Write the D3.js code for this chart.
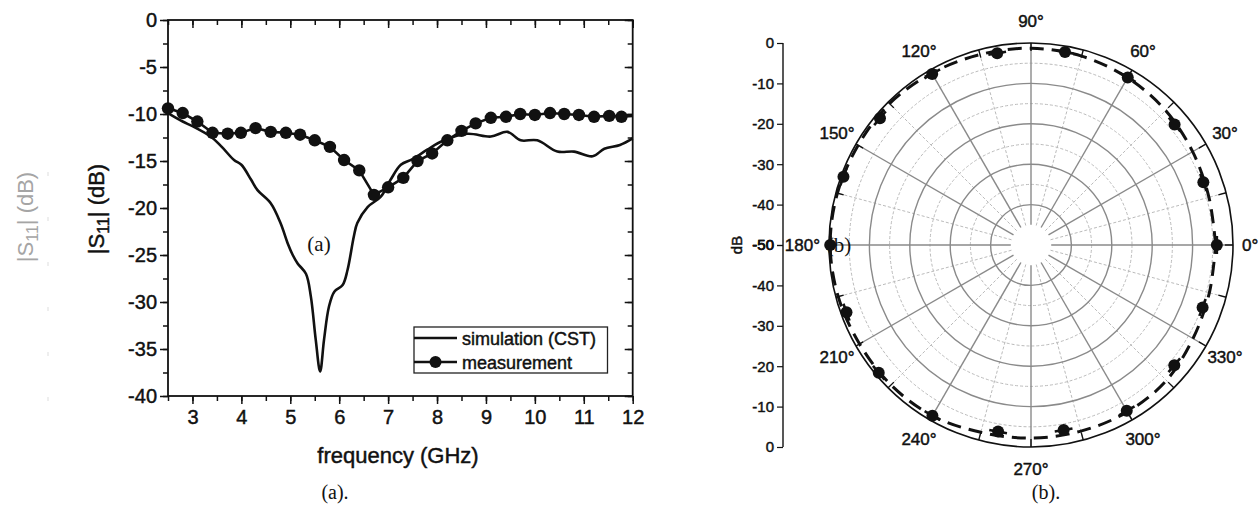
<!DOCTYPE html>
<html>
<head>
<meta charset="utf-8">
<script src="https://cdn.jsdelivr.net/npm/d3@7"></script>
<style>
  body { margin: 0; background: #fff; }
  svg { display: block; }
  text { font-family: "Liberation Sans", Arial, sans-serif; fill: #111; }
  .bold { stroke: #111; stroke-width: 0.45px; }
  .serif { font-family: "Liberation Serif", "Times New Roman", serif; }
</style>
</head>
<body>
<svg width="1259" height="514"></svg>
<script>
// ---- panel (a): |S11| vs frequency ----
var simFreq = [2.5, 2.8, 3.0, 3.37, 3.6, 3.85, 4.0, 4.2, 4.33, 4.6, 4.8, 4.95, 5.05, 5.15, 5.32, 5.42, 5.52, 5.61,
               5.69, 5.79, 5.9, 6.07, 6.17, 6.3, 6.37, 6.58, 6.85, 7.05, 7.26, 7.5, 7.8, 8.14, 8.62, 9.1, 9.44,
               9.71, 10.05, 10.46, 10.8, 11.18, 11.42, 11.74, 12.0];
var simDb   = [-9.9, -10.8, -11.3, -12.4, -13.5, -14.9, -15.4, -17.0, -18.1, -19.5, -21.6, -23.8, -25.0, -25.9, -27.0, -29.4, -34.0, -37.4,
               -34.0, -30.5, -28.9, -28.2, -26.6, -23.0, -21.6, -19.9, -18.8, -17.0, -15.4, -14.8, -13.8, -12.8, -12.1, -12.4, -11.9,
               -12.8, -12.8, -14.0, -14.0, -14.5, -13.7, -13.3, -12.6];

var measFreq = [2.5, 2.8, 3.1, 3.41, 3.72, 3.99, 4.29, 4.6, 4.91, 5.2, 5.5, 5.81, 6.1, 6.41, 6.71, 7.0,
                7.31, 7.6, 7.9, 8.21, 8.5, 8.79, 9.1, 9.41, 9.7, 10.0, 10.31, 10.6, 10.9, 11.21, 11.52, 11.77];
var measDb   = [-9.4, -9.9, -10.8, -12.0, -12.1, -12.0, -11.5, -11.9, -12.0, -12.2, -12.8, -13.5, -14.9, -16.0, -18.6, -17.8,
                -16.8, -15.0, -14.2, -12.8, -11.8, -11.0, -10.4, -10.3, -10.0, -10.1, -9.9, -10.0, -10.1, -10.3, -10.2, -10.3];

var xTicks = [3, 4, 5, 6, 7, 8, 9, 10, 11, 12];
var yTicks = [0, -5, -10, -15, -20, -25, -30, -35, -40];
var legendLabels = ["simulation (CST)", "measurement"];

// ---- panel (b): polar pattern ----
var simAngle = [0, 15, 30, 45, 60, 75, 90, 105, 120, 135, 150, 165, 180, 195, 210, 225, 240, 255, 270, 285, 300, 315, 330, 345, 360];
var simPolarDb = [-4.3, -4.4, -3.8, -2.9, -2.2, -1.6, -1.3, -1.2, -0.9, -0.5, -0.6, -0.4, -0.3, -0.6, -1.0, -1.0, -1.2, -2.0, -2.2, -2.3, -2.3, -2.6, -3.7, -4.3, -4.3];
var measAngle = [0, 20, 40, 60, 80, 100, 120, 140, 160, 180, 200, 220, 240, 260, 280, 300, 320, 340];
var measPolarDb = [-4.0, -4.6, -3.6, -2.1, -1.5, -1.8, -1.1, -1.2, -0.6, -0.3, -1.4, -0.8, -1.2, -3.1, -3.5, -2.6, -3.7, -4.8];
var angleLabels = [0, 30, 60, 90, 120, 150, 180, 210, 240, 270, 300, 330];
var radialTicks = [0, -10, -20, -30, -40, -50];

var svg = d3.select("svg");
var fmt = d => String(d);   // plain hyphen minus, as in the figure

// ================= panel (a) =================
var x = d3.scaleLinear().domain([2.5, 12]).range([168, 632.7]);
var y = d3.scaleLinear().domain([-40, 0]).range([396, 20]);

var gA = svg.append("g");

var xMinor = d3.range(2.5, 12.01, 0.5);
var yMinor = d3.range(-40, 0.01, 2.5);

// bottom (outward) & top (inward)
gA.append("g").attr("transform", "translate(0,396)")
  .call(d3.axisBottom(x).tickValues(xMinor).tickSize(5).tickFormat(""))
  .call(g => g.select(".domain").remove());
gA.append("g").attr("transform", "translate(0,396)")
  .call(d3.axisBottom(x).tickValues(xTicks).tickSize(8).tickPadding(6).tickFormat(fmt))
  .call(g => g.select(".domain").remove())
  .call(g => g.selectAll("text").attr("class", "bold").attr("font-size", 20).attr("font-family", null).attr("fill", "#111"));
gA.append("g").attr("transform", "translate(0,20)")
  .call(d3.axisTop(x).tickValues(xMinor).tickSize(-5).tickFormat(""))
  .call(g => g.select(".domain").remove());
gA.append("g").attr("transform", "translate(0,20)")
  .call(d3.axisTop(x).tickValues(xTicks).tickSize(-8).tickFormat(""))
  .call(g => g.select(".domain").remove());

// left (outward) & right (inward)
gA.append("g").attr("transform", "translate(168,0)")
  .call(d3.axisLeft(y).tickValues(yMinor).tickSize(5).tickFormat(""))
  .call(g => g.select(".domain").remove());
gA.append("g").attr("transform", "translate(168,0)")
  .call(d3.axisLeft(y).tickValues(yTicks).tickSize(8).tickPadding(3).tickFormat(fmt))
  .call(g => g.select(".domain").remove())
  .call(g => g.selectAll("text").attr("class", "bold").attr("font-size", 20).attr("font-family", null).attr("fill", "#111"));
gA.append("g").attr("transform", "translate(632.7,0)")
  .call(d3.axisRight(y).tickValues(yMinor).tickSize(-5).tickFormat(""))
  .call(g => g.select(".domain").remove());
gA.append("g").attr("transform", "translate(632.7,0)")
  .call(d3.axisRight(y).tickValues(yTicks).tickSize(-8).tickFormat(""))
  .call(g => g.select(".domain").remove());

gA.selectAll(".tick line").attr("stroke", "#111").attr("stroke-width", 1.5);

// frame
gA.append("rect").attr("x", 168).attr("y", 20).attr("width", 632.7 - 168).attr("height", 376)
  .attr("fill", "none").attr("stroke", "#111").attr("stroke-width", 1.8);

// curves
var simPts = simFreq.map((f, i) => [x(f), y(simDb[i])]);
var measPts = measFreq.map((f, i) => [x(f), y(measDb[i])]);
measPts.push([x(12), y(-10.2)]);

gA.append("path").attr("d", d3.line().curve(d3.curveCatmullRom)(simPts))
  .attr("fill", "none").attr("stroke", "#111").attr("stroke-width", 2.6);
gA.append("path").attr("d", d3.line()(measPts))
  .attr("fill", "none").attr("stroke", "#111").attr("stroke-width", 2.6);
gA.selectAll("circle.m").data(measFreq).enter().append("circle")
  .attr("cx", d => x(d)).attr("cy", (d, i) => y(measDb[i])).attr("r", 6.2).attr("fill", "#111");

// legend
var lg = gA.append("g");
lg.append("rect").attr("x", 414).attr("y", 327).attr("width", 193.5).attr("height", 46)
  .attr("fill", "#fff").attr("stroke", "#222").attr("stroke-width", 1.3);
legendLabels.forEach(function (t, i) {
  var ly = 338 + i * 24;
  lg.append("line").attr("x1", 414).attr("x2", 457).attr("y1", ly).attr("y2", ly)
    .attr("stroke", "#111").attr("stroke-width", 2.6);
  if (i === 1) lg.append("circle").attr("cx", 435.5).attr("cy", ly).attr("r", 6).attr("fill", "#111");
  lg.append("text").attr("class", "bold").attr("x", 462).attr("y", ly + 6.5).attr("font-size", 18).text(t);
});

// axis titles
gA.append("text").attr("class", "bold").attr("x", 398).attr("y", 463).attr("text-anchor", "middle").attr("font-size", 22)
  .text("frequency (GHz)");
var yl = gA.append("text").attr("class", "bold").attr("transform", "translate(104,209) rotate(-90)")
  .attr("text-anchor", "middle").attr("font-size", 22);
yl.append("tspan").text("|S");
yl.append("tspan").attr("font-size", 16).attr("dy", 5).text("11");
yl.append("tspan").attr("dy", -5).text("| (dB)");

// faint ghost label at far left
var gl = gA.append("text").attr("transform", "translate(33,217) rotate(-90)")
  .attr("text-anchor", "middle").attr("font-size", 22).style("fill", "#8f8f8f").style("opacity", 0.8);
gl.append("tspan").text("|S");
gl.append("tspan").attr("font-size", 16).attr("dy", 5).text("11");
gl.append("tspan").attr("dy", -5).text("| (dB)");
yTicks.slice(1, 7).forEach(function (v, i) {
  gA.append("line").attr("x1", 48).attr("x2", 48).attr("y1", 172 + i * 45).attr("y2", 176 + i * 45)
    .attr("stroke", "#ddd").attr("stroke-width", 1);
});

gA.append("text").attr("class", "serif").attr("x", 319).attr("y", 251).attr("text-anchor", "middle")
  .attr("font-size", 21).text("(a)");
gA.append("text").attr("class", "serif").attr("x", 335).attr("y", 499).attr("text-anchor", "middle")
  .attr("font-size", 20).text("(a).");

// ================= panel (b) =================
var cx = 1031, cy = 245, R = 202;
var r = d3.scaleLinear().domain([-50, 0]).range([0, R]);
var rad = a => a * Math.PI / 180;
var px = (a, v) => cx + r(v) * Math.cos(rad(a));
var py = (a, v) => cy - r(v) * Math.sin(rad(a));

var gB = svg.append("g");

// dashed minor rings and spokes
[-35, -25, -15, -5].forEach(function (v) {
  gB.append("circle").attr("cx", cx).attr("cy", cy).attr("r", r(v))
    .attr("fill", "none").attr("stroke", "#bbb").attr("stroke-width", 1).attr("stroke-dasharray", "3,2");
});
d3.range(15, 360, 30).forEach(function (a) {
  gB.append("line").attr("x1", px(a, -45)).attr("y1", py(a, -45)).attr("x2", px(a, 0)).attr("y2", py(a, 0))
    .attr("stroke", "#bbb").attr("stroke-width", 1).attr("stroke-dasharray", "3,2");
});
// solid rings and spokes
[-40, -30, -20, -10].forEach(function (v) {
  gB.append("circle").attr("cx", cx).attr("cy", cy).attr("r", r(v))
    .attr("fill", "none").attr("stroke", "#8a8a8a").attr("stroke-width", 1.4);
});
d3.range(0, 360, 30).forEach(function (a) {
  gB.append("line").attr("x1", px(a, -45)).attr("y1", py(a, -45)).attr("x2", px(a, 0)).attr("y2", py(a, 0))
    .attr("stroke", "#8a8a8a").attr("stroke-width", 1.4);
});
// outer circle + ticks every 15 deg
gB.append("circle").attr("cx", cx).attr("cy", cy).attr("r", R)
  .attr("fill", "none").attr("stroke", "#111").attr("stroke-width", 1.6);
d3.range(0, 360, 15).forEach(function (a) {
  gB.append("line").attr("x1", px(a, -2)).attr("y1", py(a, -2)).attr("x2", px(a, 0)).attr("y2", py(a, 0))
    .attr("stroke", "#111").attr("stroke-width", 1.4);
});

// simulation (dashed)
var simPolarPts = simAngle.map((a, i) => [px(a, simPolarDb[i]), py(a, simPolarDb[i])]);
gB.append("path").attr("d", d3.line().curve(d3.curveCatmullRom)(simPolarPts))
  .attr("fill", "none").attr("stroke", "#111").attr("stroke-width", 3).attr("stroke-dasharray", "14,8");

// measurement dots with short tangent strokes
measAngle.forEach(function (a, i) {
  var v = measPolarDb[i];
  var x0 = px(a, v), y0 = py(a, v);
  var tx = -Math.sin(rad(a)) * 9, ty = -Math.cos(rad(a)) * 9;
  gB.append("line").attr("x1", x0 - tx).attr("y1", y0 - ty).attr("x2", x0 + tx).attr("y2", y0 + ty)
    .attr("stroke", "#111").attr("stroke-width", 2.6);
  gB.append("circle").attr("cx", x0).attr("cy", y0).attr("r", 6).attr("fill", "#111");
});

// angle labels
angleLabels.forEach(function (a) {
  var lr = R + 22;
  var t = gB.append("text").attr("class", "bold").attr("font-size", 17).attr("text-anchor", "middle")
    .attr("x", cx + lr * Math.cos(rad(a))).attr("y", cy - lr * Math.sin(rad(a)) + 6)
    .text(a + "°");
  if (a === 0) t.attr("text-anchor", "start").attr("x", cx + R + 9);
  if (a === 180) t.attr("text-anchor", "end").attr("x", cx - R - 9);
});

// left radial axis (mirrored)
var rTop = d3.scaleLinear().domain([-50, 0]).range([cy, cy - R]);
var rBot = d3.scaleLinear().domain([-50, 0]).range([cy, cy + R]);
var axX = 783;
[rTop, rBot].forEach(function (s) {
  var ga = gB.append("g").attr("transform", "translate(" + axX + ",0)");
  ga.call(d3.axisLeft(s).tickValues(d3.range(-45, 0, 10)).tickSize(3).tickFormat(""))
    .call(g => g.select(".domain").remove());
  ga.call(d3.axisLeft(s).tickValues(radialTicks).tickSize(6).tickPadding(3).tickFormat(fmt))
    .call(g => g.select(".domain").remove());
  ga.selectAll("line").attr("stroke", "#111").attr("stroke-width", 1.2);
  ga.selectAll("text").attr("class", "bold").attr("font-size", 15).attr("font-family", null).attr("fill", "#111");
});
gB.append("line").attr("x1", axX).attr("x2", axX).attr("y1", cy - R).attr("y2", cy + R)
  .attr("stroke", "#111").attr("stroke-width", 1.4);
gB.append("text").attr("class", "bold").attr("transform", "translate(742,245) rotate(-90)").attr("text-anchor", "middle")
  .attr("font-size", 15).text("dB");

gB.append("text").attr("class", "serif").attr("x", 839).attr("y", 252).attr("text-anchor", "middle")
  .attr("font-size", 21).text("(b)");
gB.append("text").attr("class", "serif").attr("x", 1046).attr("y", 499).attr("text-anchor", "middle")
  .attr("font-size", 20).text("(b).");
</script>
</body>
</html>
